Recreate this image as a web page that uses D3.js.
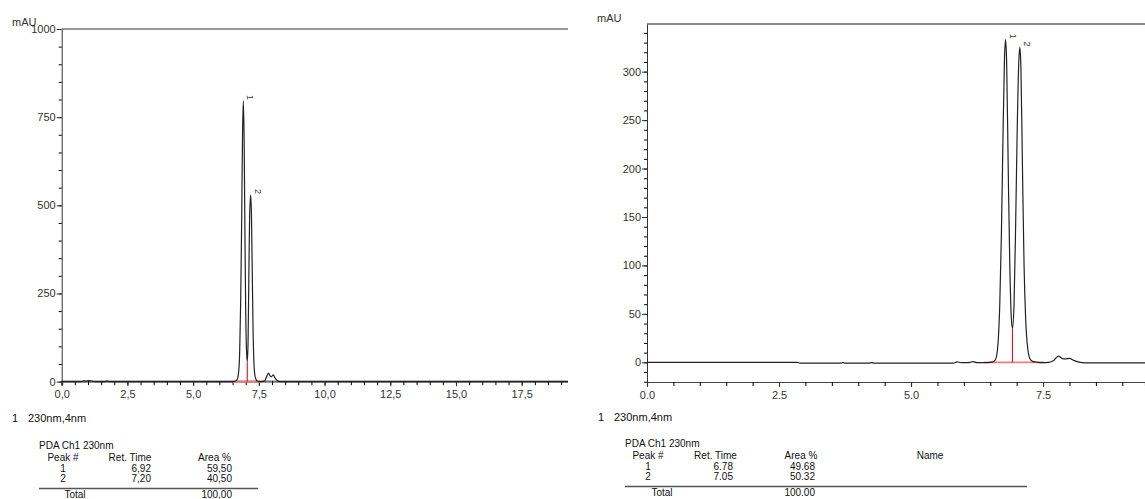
<!DOCTYPE html>
<html>
<head>
<meta charset="utf-8">
<script src="https://cdn.jsdelivr.net/npm/d3@7"></script>
<style>
  body { margin: 0; background: #fff; }
  svg { display: block; font-family: "Liberation Sans", Arial, sans-serif; }
  .axis text { font-size: 11px; fill: #333; font-family: "Liberation Sans", Arial, sans-serif; }
  .tbl { font-size: 10px; fill: #111; }
</style>
</head>
<body>
<svg id="chart"></svg>
<script>
// ---- data ----
// left run: [time (min), mAU]
const leftTrace = [
  [0, 0], [0.75, 0], [0.85, 2], [0.95, 1], [1.05, 3], [1.15, 1], [1.3, 0],
  [1.65, 0], [1.72, 2], [1.8, 0], [6.5, 0], [6.6, 1], [6.66, 4], [6.72, 20],
  [6.77, 80], [6.81, 230], [6.85, 480], [6.88, 700], [6.91, 796], [6.94, 690],
  [6.97, 430], [7.0, 200], [7.03, 90], [7.06, 57], [7.09, 110], [7.12, 300],
  [7.15, 470], [7.19, 529], [7.22, 470], [7.25, 310], [7.28, 150], [7.31, 60],
  [7.35, 18], [7.4, 5], [7.46, 1], [7.6, 0], [7.72, 2], [7.8, 15], [7.87, 24],
  [7.93, 16], [7.98, 14], [8.05, 19], [8.12, 10], [8.2, 3], [8.3, 0], [20, 0]
];
const leftPeaks = [
  { id: '1', t: 6.91, v: 796 },
  { id: '2', t: 7.19, v: 529 }
];
const leftBaseline = [6.40, 7.67];
const leftDivider = [7.06, 57];

// right run
const rightTrace = [
  [0, 0], [2.85, 0], [2.9, -0.8], [3.68, -0.8], [3.71, -0.1], [3.74, -0.8],
  [4.2, -0.8], [4.25, -0.3], [4.3, -0.8], [5.8, -0.8], [5.87, 0.5], [5.95, -0.3],
  [6.1, -0.2], [6.17, 0.8], [6.25, -0.3], [6.45, -0.2], [6.55, 0.5], [6.6, 3],
  [6.64, 15], [6.68, 60], [6.71, 130], [6.74, 230], [6.77, 315], [6.79, 333],
  [6.81, 310], [6.84, 200], [6.87, 100], [6.9, 45], [6.92, 35], [6.95, 60],
  [6.98, 140], [7.01, 240], [7.04, 310], [7.06, 325], [7.08, 305], [7.11, 200],
  [7.14, 100], [7.17, 45], [7.21, 14], [7.25, 4], [7.3, 1], [7.4, 0], [7.5, -0.3],
  [7.6, 0], [7.7, 2], [7.79, 6.5], [7.86, 4], [7.92, 3.5], [8.0, 4], [8.08, 2],
  [8.2, 0], [8.3, -0.5], [9.5, -0.5]
];
const rightPeaks = [
  { id: '1', t: 6.79, v: 333 },
  { id: '2', t: 7.06, v: 325 }
];
const rightBaseline = [6.38, 7.52];
const rightDivider = [6.92, 35];

// table contents
const tableHeader = ['Peak #', 'Ret. Time', 'Area %'];
const leftRows = [['1', '6,92', '59,50'], ['2', '7,20', '40,50']];
const leftTotal = '100,00';
const rightRows = [['1', '6.78', '49.68'], ['2', '7.05', '50.32']];
const rightTotal = '100.00';

const W = 1145, H = 499;
const svg = d3.select('#chart').attr('width', W).attr('height', H);

const comma = d => d3.format('.1f')(d).replace('.', ',');

function drawChrom(cfg) {
  let g = svg.append('g');
  if (cfg.clipW) {
    svg.append('clipPath').attr('id', cfg.name + '-clip')
      .append('rect').attr('x', cfg.x0 - 60).attr('y', 0)
      .attr('width', cfg.clipW - cfg.x0 + 60).attr('height', H);
    g.attr('clip-path', `url(#${cfg.name}-clip)`);
  }

  const x = d3.scaleLinear().domain(cfg.xDomain).range([cfg.x0, cfg.x1]);
  const y = d3.scaleLinear().domain(cfg.yDomain).range([cfg.yBottom, cfg.yTop]);

  // top frame line
  g.append('line')
    .attr('x1', cfg.x0).attr('x2', cfg.x1)
    .attr('y1', cfg.yTop).attr('y2', cfg.yTop)
    .attr('stroke', cfg.topColor).attr('stroke-width', cfg.topWidth);

  // x axis minor then major
  const xAxisY = cfg.xAxisY;
  g.append('g').attr('class', 'axis')
    .attr('transform', `translate(0,${xAxisY})`)
    .call(d3.axisBottom(x).tickValues(d3.range(cfg.xDomain[0], cfg.xDomain[1] + 0.01, 0.5))
      .tickSize(4).tickFormat(''))
    .call(a => a.select('.domain').attr('stroke', cfg.xAxisColor).attr('stroke-width', cfg.xAxisWidth));
  g.append('g').attr('class', 'axis')
    .attr('transform', `translate(0,${xAxisY})`)
    .call(d3.axisBottom(x).tickValues(cfg.xTicks).tickSize(5).tickPadding(4).tickFormat(cfg.xFormat))
    .call(a => a.select('.domain').remove())
    .call(a => a.selectAll('line').attr('stroke', '#333'));

  // y axis
  const yMin = cfg.yMinorStep;
  g.append('g').attr('class', 'axis')
    .attr('transform', `translate(${cfg.x0},0)`)
    .call(d3.axisLeft(y).tickValues(d3.range(Math.ceil(cfg.yDomain[0] / yMin) * yMin, cfg.yDomain[1], yMin))
      .tickSize(3).tickFormat('').tickSizeOuter(0))
    .call(a => a.select('.domain').attr('stroke', '#333'));
  g.append('g').attr('class', 'axis')
    .attr('transform', `translate(${cfg.x0},0)`)
    .call(d3.axisLeft(y).tickValues(cfg.yTicks).tickSize(5).tickPadding(1).tickFormat(d3.format('d')))
    .call(a => a.select('.domain').remove())
    .call(a => a.selectAll('line').attr('stroke', '#333'));

  // integration baseline and divider
  g.append('line')
    .attr('x1', x(cfg.baseline[0])).attr('x2', x(cfg.baseline[1]))
    .attr('y1', y(0)).attr('y2', y(0))
    .attr('stroke', '#f77').attr('stroke-width', 1.6);
  g.append('line')
    .attr('x1', x(cfg.divider[0])).attr('x2', x(cfg.divider[0]))
    .attr('y1', y(0)).attr('y2', y(cfg.divider[1]))
    .attr('stroke', '#e11').attr('stroke-width', 1.1);

  // trace
  const line = d3.line()
    .x(d => x(d[0])).y(d => y(d[1]))
    .curve(d3.curveMonotoneX);
  g.append('path').datum(cfg.trace)
    .attr('d', line)
    .attr('fill', 'none')
    .attr('stroke', '#222')
    .attr('stroke-width', 1.2);

  // peak labels
  g.selectAll('.plabel').data(cfg.peaks).join('text')
    .attr('class', 'plabel')
    .attr('transform', d => `translate(${x(d.t) + 4},${y(d.v) - 6}) rotate(90)`)
    .attr('font-size', 9).attr('fill', '#333')
    .text(d => d.id);

  // unit label
  svg.append('text')
    .attr('x', cfg.unitX).attr('y', cfg.unitY)
    .attr('font-size', 11).attr('fill', '#333')
    .text('mAU');

  // channel label
  svg.append('text').attr('x', cfg.chX).attr('y', cfg.chY)
    .attr('font-size', 11).attr('fill', '#111').text('1');
  svg.append('text').attr('x', cfg.chX + 16).attr('y', cfg.chY)
    .attr('font-size', 11).attr('fill', '#111').text('230nm,4nm');
}

function drawTable(t) {
  const g = svg.append('g').attr('class', 'tbl');
  g.append('text').attr('x', t.x).attr('y', t.y).text('PDA Ch1 230nm');
  tableHeader.forEach((h, i) => {
    g.append('text').attr('x', t.headX[i]).attr('y', t.y + 11.5)
      .attr('text-anchor', 'middle').text(h);
  });
  if (t.extraHead) {
    g.append('text').attr('x', t.extraHead[0]).attr('y', t.y + 11.5)
      .attr('text-anchor', 'middle').text(t.extraHead[1]);
  }
  t.rows.forEach((r, j) => {
    const yy = t.y + 22.5 + j * 10;
    g.append('text').attr('x', t.headX[0]).attr('y', yy).attr('text-anchor', 'middle').text(r[0]);
    g.append('text').attr('x', t.colR[0]).attr('y', yy).attr('text-anchor', 'end').text(r[1]);
    g.append('text').attr('x', t.colR[1]).attr('y', yy).attr('text-anchor', 'end').text(r[2]);
  });
  g.append('line').attr('x1', t.x).attr('x2', t.lineX2)
    .attr('y1', t.y + 39.5).attr('y2', t.y + 39.5)
    .attr('stroke', '#555').attr('stroke-width', 1.3);
  g.append('text').attr('x', t.totalX).attr('y', t.y + 49).attr('text-anchor', 'middle').text('Total');
  g.append('text').attr('x', t.colR[1]).attr('y', t.y + 49).attr('text-anchor', 'end').text(t.total);
}

drawChrom({
  name: 'left',
  trace: leftTrace, peaks: leftPeaks, baseline: leftBaseline, divider: leftDivider,
  xDomain: [0, 20], x0: 61.7, x1: 587.4, clipW: 568,
  yDomain: [0, 1000], yBottom: 381.6, yTop: 29,
  xAxisY: 381.2, xAxisColor: '#777', xAxisWidth: 2.2,
  xTicks: [0, 2.5, 5, 7.5, 10, 12.5, 15, 17.5, 20], xFormat: comma,
  yTicks: [0, 250, 500, 750, 1000], yMinorStep: 50,
  topColor: '#333', topWidth: 1.2,
  unitX: 12, unitY: 26, chX: 12, chY: 422
});

drawChrom({
  name: 'right',
  trace: rightTrace, peaks: rightPeaks, baseline: rightBaseline, divider: rightDivider,
  xDomain: [0, 9.43], x0: 647, x1: 1145,
  yDomain: [-20.3, 349.2], yBottom: 382, yTop: 24,
  xAxisY: 382, xAxisColor: '#444', xAxisWidth: 1.2,
  xTicks: [0, 2.5, 5, 7.5], xFormat: d3.format('.1f'),
  yTicks: [0, 50, 100, 150, 200, 250, 300], yMinorStep: 10,
  topColor: '#888', topWidth: 2,
  unitX: 597, unitY: 22, chX: 598, chY: 421
});

drawTable({
  x: 39, y: 449, headX: [63, 130, 214.5], colR: [151, 232],
  rows: leftRows, total: leftTotal, totalX: 75, lineX2: 258
});
drawTable({
  x: 625, y: 447, headX: [648, 715.5, 801], colR: [733, 815],
  rows: rightRows, total: rightTotal, totalX: 662, lineX2: 1027,
  extraHead: [930, 'Name']
});
</script>
</body>
</html>
